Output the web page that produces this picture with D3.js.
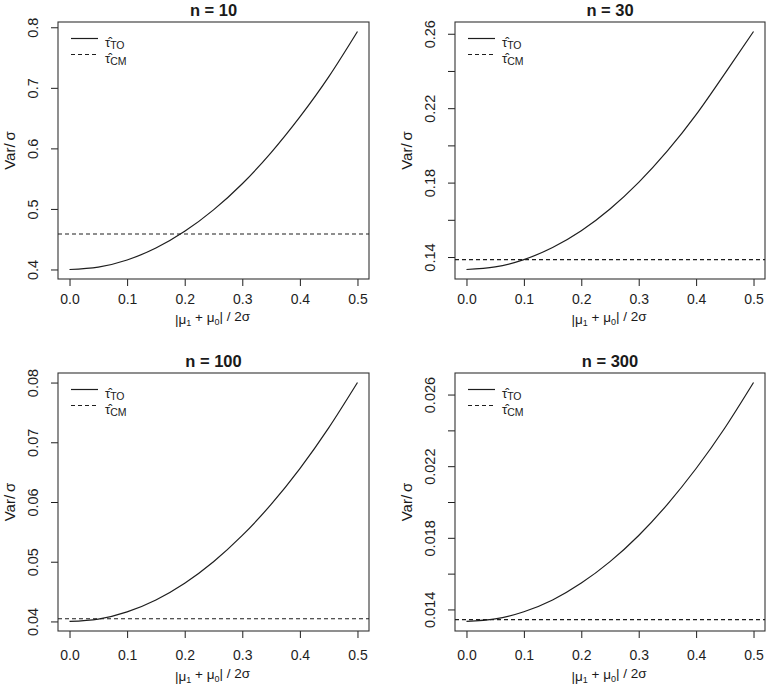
<!DOCTYPE html>
<html>
<head>
<meta charset="utf-8">
<script src="https://cdn.jsdelivr.net/npm/d3@7"></script>
<style>
  html, body { margin: 0; padding: 0; background: #fff; }
  svg { display: block; }
  text { font-family: "Liberation Sans", Arial, Helvetica, sans-serif; fill: #1a1a1a; }
</style>
</head>
<body>
<svg id="chart" width="768" height="687"></svg>
<script>
// ---------- data ----------
const xValues = [0, 0.05, 0.1, 0.15, 0.2, 0.25, 0.3, 0.35, 0.4, 0.45, 0.5];
const panelTitles = ["n = 10", "n = 30", "n = 100", "n = 300"];
const toN10  = [0.400, 0.404, 0.4157, 0.4354, 0.463, 0.4984, 0.5416, 0.593, 0.652, 0.718, 0.793];
const toN30  = [0.1333, 0.1347, 0.1386, 0.1451, 0.1541, 0.1658, 0.1801, 0.1970, 0.2165, 0.2386, 0.2612];
const toN100 = [0.0400, 0.0404, 0.0416, 0.0436, 0.0464, 0.0500, 0.0544, 0.0596, 0.0656, 0.0724, 0.0800];
const toN300 = [0.01333, 0.01347, 0.01387, 0.01453, 0.01547, 0.01667, 0.01813, 0.01987, 0.02187, 0.02413, 0.02667];
const cmValues = [0.4586, 0.1386, 0.04045, 0.01343];
const xTicks = [0, 0.1, 0.2, 0.3, 0.4, 0.5];
const xTickLabels = ["0.0", "0.1", "0.2", "0.3", "0.4", "0.5"];
const yTicks = [
  [0.4, 0.5, 0.6, 0.7, 0.8],
  [0.14, 0.16, 0.18, 0.20, 0.22, 0.24, 0.26],
  [0.04, 0.05, 0.06, 0.07, 0.08],
  [0.014, 0.016, 0.018, 0.020, 0.022, 0.024, 0.026]
];
const yTickLabels = [
  ["0.4", "0.5", "0.6", "0.7", "0.8"],
  ["0.14", "", "0.18", "", "0.22", "", "0.26"],
  ["0.04", "0.05", "0.06", "0.07", "0.08"],
  ["0.014", "", "0.018", "", "0.022", "", "0.026"]
];
const legendSubs = ["TO", "CM"];
const toSeries = [toN10, toN30, toN100, toN300];

// ---------- layout ----------
const boxes = [
  {left: 58,  right: 369, top: 22,  bottom: 279, tickY: 20, labY: 40},
  {left: 455, right: 765, top: 22,  bottom: 279, tickY: 20, labY: 40},
  {left: 58,  right: 369, top: 373, bottom: 631, tickY: 24, labY: 45},
  {left: 455, right: 765, top: 373, bottom: 631, tickY: 24, labY: 45}
];
const ink = "#1e1e1e";
const svg = d3.select("#chart");

function rExtend(ext) {
  const d = (ext[1] - ext[0]) * 0.04;
  return [ext[0] - d, ext[1] + d];
}

boxes.forEach((b, i) => {
  const g = svg.append("g");
  const x = d3.scaleLinear().domain(rExtend([0, 0.5])).range([b.left, b.right]);
  const allY = toSeries[i].concat([cmValues[i]]);
  const y = d3.scaleLinear().domain(rExtend(d3.extent(allY))).range([b.bottom, b.top]);

  // x axis
  const xa = g.append("g").attr("transform", `translate(0,${b.bottom})`)
    .call(d3.axisBottom(x).tickValues(xTicks).tickSize(7).tickSizeOuter(0)
      .tickFormat((d, k) => xTickLabels[k]));
  xa.select(".domain").remove();
  xa.selectAll(".tick line").attr("stroke", ink);
  xa.selectAll(".tick text").attr("y", b.tickY).attr("dy", "0.35em")
    .style("font-size", "14px").style("fill", ink);

  // y axis
  const ya = g.append("g").attr("transform", `translate(${b.left},0)`)
    .call(d3.axisLeft(y).tickValues(yTicks[i]).tickSize(7).tickSizeOuter(0)
      .tickFormat((d, k) => yTickLabels[i][k]));
  ya.select(".domain").remove();
  ya.selectAll(".tick line").attr("stroke", ink);
  ya.selectAll(".tick text")
    .attr("x", 0).attr("y", 0).attr("dy", "0.35em")
    .attr("text-anchor", "middle")
    .attr("transform", "translate(-25,0) rotate(-90)")
    .style("font-size", "14.5px").style("fill", ink);

  // box
  g.append("rect").attr("x", b.left).attr("y", b.top)
    .attr("width", b.right - b.left).attr("height", b.bottom - b.top)
    .attr("fill", "none").attr("stroke", "#333").attr("stroke-width", 1.1);

  // title
  g.append("text").attr("x", (b.left + b.right) / 2).attr("y", b.top - 12)
    .attr("text-anchor", "middle").attr("dy", "0.35em")
    .style("font-size", "16.5px").style("font-weight", "bold").text(panelTitles[i]);

  // axis labels
  const xl = g.append("text").attr("x", (b.left + b.right) / 2 - 1).attr("y", b.bottom + b.labY)
    .attr("text-anchor", "middle").attr("dy", "0.35em").style("font-size", "13.5px");
  xl.append("tspan").text("|μ");
  xl.append("tspan").text("1").attr("dy", "0.3em").style("font-size", "9px");
  xl.append("tspan").text(" + μ").attr("dy", "-0.3em");
  xl.append("tspan").text("0").attr("dy", "0.3em").style("font-size", "9px");
  xl.append("tspan").text("| / 2σ").attr("dy", "-0.3em");

  g.append("text")
    .attr("transform", `translate(${b.left - 48},${(b.top + b.bottom) / 2}) rotate(-90)`)
    .attr("text-anchor", "middle").attr("dy", "0.35em")
    .style("font-size", "15px").text("Var/\u2009σ");

  // curves
  const pts = xValues.map((xv, k) => [xv, toSeries[i][k]]);
  g.append("path").datum(pts)
    .attr("d", d3.line().x(d => x(d[0])).y(d => y(d[1])).curve(d3.curveNatural))
    .attr("fill", "none").attr("stroke", ink).attr("stroke-width", 1.2);

  g.append("line").attr("x1", b.left).attr("x2", b.right)
    .attr("y1", y(cmValues[i])).attr("y2", y(cmValues[i]))
    .attr("stroke", ink).attr("stroke-width", 1.2).attr("stroke-dasharray", "4,3");

  // legend
  const lx0 = b.left + 13, lx1 = b.left + 40, tx = b.left + 47;
  const rows = [{dy: 16.5, dash: null}, {dy: 32.5, dash: "4,3"}];
  rows.forEach((r, k) => {
    const ly = b.top + r.dy;
    g.append("line").attr("x1", lx0).attr("x2", lx1).attr("y1", ly).attr("y2", ly)
      .attr("stroke", ink).attr("stroke-width", 1.2)
      .attr("stroke-dasharray", r.dash);
    const t = g.append("text").attr("x", tx).attr("y", ly + 8.5).style("font-size", "13px");
    t.append("tspan").text("τ\u0302");
    t.append("tspan").text(legendSubs[k]).attr("dy", "1.5").style("font-size", "10.5px");
  });
});
</script>
</body>
</html>
